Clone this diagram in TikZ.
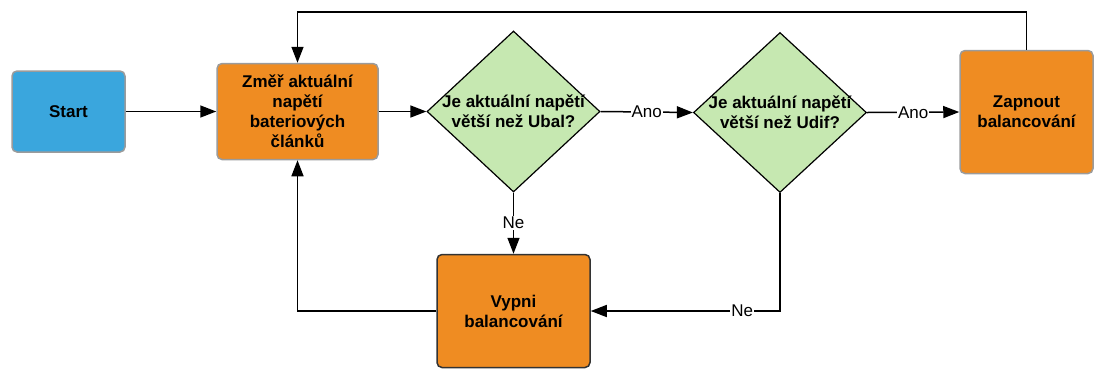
\documentclass[tikz,border=0pt]{standalone}
\usepackage{fontspec}
\setmainfont{Liberation Sans}
\usepackage{xcolor}
\usetikzlibrary{arrows.meta}
\usetikzlibrary{shapes.geometric}

\definecolor{modra}{HTML}{3AA6DD}
\definecolor{oranzova}{HTML}{EF8C22}
\definecolor{zelena}{HTML}{C6E8B1}
\definecolor{seda}{HTML}{9B9B9B}

\tikzset{
  krok/.style={rectangle, rounded corners=5pt, draw=seda, line width=1.5pt,
    fill=oranzova, align=center, font=\bfseries\fontsize{17}{20}\selectfont},
  otazka/.style={diamond, draw=black, line width=1.2pt, fill=zelena,
    inner sep=0pt, align=center, font=\bfseries\fontsize{17}{20}\selectfont},
  sipka/.style={line width=1.5pt, -{Triangle[length=16pt,width=12pt]}},
  popis/.style={fill=white, inner sep=1pt, font=\fontsize{17}{20}\selectfont},
}

\begin{document}
\begin{tikzpicture}[x=1pt,y=-1pt]
    \useasboundingbox (0,0) rectangle (1096,368);

    % Uzly diagramu
    \node[krok, fill=modra, minimum width=113pt, minimum height=81pt] (start) at (68.5,111.5) {Start};
    \node[krok, minimum width=161pt, minimum height=96pt] (zmer) at (297.5,111.5) {Změř aktuální\\napětí\\bateriových\\článků};
    \node[otazka, minimum width=173pt, minimum height=161pt] (ubal) at (513.5,111.5)
        {\makebox[0pt]{Je aktuální napětí}\\\makebox[0pt]{větší než Ubal?}};
    \node[otazka, minimum width=173pt, minimum height=160pt] (udif) at (780,112.5)
        {\makebox[0pt]{Je aktuální napětí}\\\makebox[0pt]{větší než Udif?}};
    \node[krok, minimum width=133pt, minimum height=123pt] (zapni) at (1026.5,112) {Zapnout\\balancování};
    \node[krok, draw=black!80, minimum width=153pt, minimum height=113pt] (vypni) at (513.5,311) {Vypni\\balancování};
    \coordinate (horni) at (0,12);

    % Spojnice
    \draw[sipka] (start) -- (zmer);
    \draw[sipka] (zmer) -- (ubal);
    \draw[sipka] (ubal.east) -- node[popis] {Ano} (udif.west);
    \draw[sipka] (udif.east) -- node[popis] {Ano} (zapni.west);
    \draw[sipka] (ubal.south) -- node[popis] {Ne} (vypni.north);
    \draw[sipka] (udif.south) |- node[popis, pos=0.6] {Ne} (vypni.east);
    \draw[sipka] (vypni.west) -| (zmer.south);
    \draw[sipka] (zapni.north) |- (zmer.north |- horni) -- (zmer.north);
\end{tikzpicture}
\end{document}
